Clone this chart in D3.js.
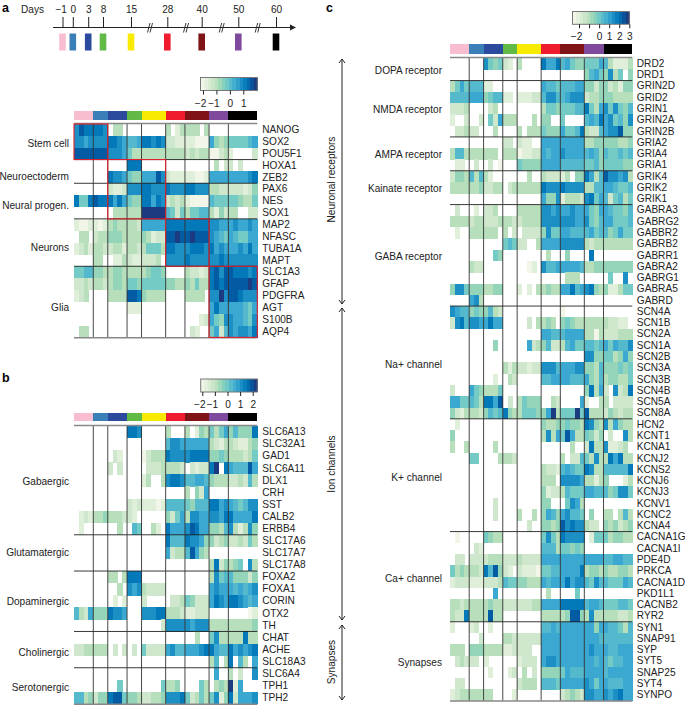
<!DOCTYPE html>
<html lang="en">
<head>
<meta charset="UTF-8">
<title>Heatmaps</title>
<script src="https://d3js.org/d3.v7.min.js"></script>
<style>
  html, body { margin: 0; padding: 0; background: #fff; }
  text { font-family: "Liberation Sans", Arial, sans-serif; fill: #222; }
  .tick text { font-size: 10.1px; }
</style>
</head>
<body>
<svg id="chart" width="685" height="705"></svg>
<script>
// day labels and colours of the differentiation groups
const days = ["\u22121", "0", "3", "8", "15", "28", "40", "50", "60"];
const dayColors = ["#f9bdd0", "#3a7fb8", "#2b4a9e", "#62ba46", "#f8ea00", "#ef1c2e", "#7f1316", "#7f4a9e", "#000000"];
const samplesPerDay = [4, 3, 4, 3, 5, 4, 5, 4, 6];

// expression levels, 0-b low to high, "." = not detected. one string per gene, split by day group
const palette = ["#f1f6e8", "#e0efda", "#cfe7cc", "#b8dfbc", "#94d4b9", "#74cbc5", "#55b9cd", "#3aa8d0", "#1c90c5", "#0479ba", "#035ca3", "#1c3a80"];

const aGenes = ["NANOG", "SOX2", "POU5F1", "HOXA1", "ZEB2", "PAX6", "NES", "SOX1", "MAP2", "NFASC", "TUBA1A", "MAPT", "SLC1A3", "GFAP", "PDGFRA", "AGT", "S100B", "AQP4"];
const aLevels = [
  "8a99 998 .33. ... ..... 3.13 333.3 .... ......",
  "8878 888 9987 667 99898 2211 11000 7434 555567",
  "aaaa aaa 8887 533 33333 3333 23233 0023 1....2",
  ".... ... .... 999 ..... .... ..... .3.2 2.2...",
  ".... ... 9887 544 777a8 2111 11001 7777 777789",
  ".... ... 2112 888 99888 9888 99888 3322 222124",
  "9559 a99 9797 544 99798 2323 10000 6555 554335",
  ".... ... .333 333 bbbbb 6525 35566 3142 33..22",
  "1001 101 3433 332 77777 9999 99999 8877 787787",
  ".33. 233 4443 333 43122 aaba abaaa 8765 765577",
  "1231 332 2331 332 35553 9988 89998 9787 778797",
  ".... 33. .113 211 2223. 8888 98888 8898 888888",
  "5566 443 3443 333 34554 .... 32212 9a8a a99989",
  "2232 332 3443 554 55555 4433 43533 9a9a aaaaba",
  "123. ... 3333 aa9 43333 .... 3333. 88b8 aa9888",
  ".... ... .... 111 ..... .... ..... 7977 777657",
  ".... ... .... ... ..... .... ...12 7548 877658",
  ".33. ... .... ... ..... .... .21.. 5726 878879"
];
const aGroups = ["Stem cell", "Neuroectoderm", "Neural progen.", "Neurons", "Glia"];
const aGroupSizes = [3, 2, 3, 4, 6];

const bGenes = ["SLC6A13", "SLC32A1", "GAD1", "SLC6A11", "DLX1", "CRH", "SST", "CALB2", "ERBB4", "SLC17A6", "SLC17A7", "SLC17A8", "FOXA2", "FOXA1", "CORIN", "OTX2", "TH", "CHAT", "ACHE", "SLC18A3", "SLC6A4", "TPH1", "TPH2"];
const bLevels = [
  ".... ... .... 998 ..... 3... 3.143 5357 464449",
  ".... ... .... ... ..... 6887 77777 3213 321134",
  ".... ... .21. ... 02333 9888 89999 4454 333235",
  ".... ... 2.2. ... .2223 3332 .2122 9b.9 7666a7",
  ".... ... .... ... 13..3 8998 66776 4333 223263",
  ".... ... .... ... ..... .... 3.427 .... ......",
  ".... ... .... 212 11101 6666 54666 9978 765688",
  ".121 334 3332 21. ..... 4257 38877 8879 977779",
  ".1.. ... ..3. .65 ..31. 9777 8a977 4436 831384",
  ".... ... .... ... ..... 9666 98874 4234 223253",
  ".... ... .... ... ..... 7233 6a743 .... ......",
  ".... ... .... ... ..... .... ..... 3924 345.83",
  ".... ... 33.3 999 ..... .... ..... 3856 644424",
  ".... ... ..3. 878 32222 .... ..... 7877 767678",
  ".... ... .1.1 ... 2.... .223 54222 7987 998767",
  "6327 444 9887 ... 88899 3332 11222 .... ....01",
  ".... ... .... ... ....2 8888 87888 3333 333334",
  ".... ... .... ... ..... .... ..3.. 5833 333933",
  "2233 333 .2.2 .2. 52222 7866 77789 9766 978789",
  ".... ... .... ... ..... .... ..... 36.3 9.63.7",
  ".... ... .... ... ..... .... ..... .7.. 3.2..8",
  ".... ... ..5. ... ....5 334. ...53 .343 b17...",
  "6634 244 9aa5 443 22334 8889 52353 5814 927778"
];
const bGroups = ["Gabaergic", "Glutamatergic", "Dopaminergic", "Cholinergic", "Serotonergic"];
const bGroupSizes = [9, 3, 5, 3, 3];

const cGenes = ["DRD2", "DRD1", "GRIN2D", "GRID2", "GRIN1", "GRIN2A", "GRIN2B", "GRIA2", "GRIA4", "GRIA1", "GRIK4", "GRIK2", "GRIK1", "GABRA3", "GABRG2", "GABBR2", "GABRB2", "GABRR1", "GABRA2", "GABRG1", "GABRA5", "GABRD", "SCN4A", "SCN1B", "SCN2A", "SCN1A", "SCN2B", "SCN3A", "SCN3B", "SCN4B", "SCN5A", "SCN8A", "HCN2", "KCNT1", "KCNA1", "KCNJ2", "KCNS2", "KCNJ6", "KCNJ3", "KCNV1", "KCNC2", "KCNA4", "CACNA1G", "CACNA1I", "PDE4D", "PRKCA", "CACNA1D", "PKD1L1", "CACNB2", "RYR2", "SYN1", "SNAP91", "SYP", "SYT5", "SNAP25", "SYT4", "SYNPO"];
const cLevels = [
  ".... ... 8545 21. 3.... 9779 67544 5557 631113",
  ".... ... .... ... ..... .... ..... 4675 4835.4",
  "3575 666 11.. ... ..... 7665 66677 4424 423144",
  "6666 777 4566 11. 11122 6886 67888 2334 443333",
  "2223 ... .23. ... ..... 3554 55566 9537 858546",
  "1..2 ..2 .527 333 ...3. 44.. 5.... 6769 785648",
  ".223 22. ..3. ... 3.333 5444 75569 3226 788a44",
  ".... ... .... 22. 211.. 7777 77777 3344 444334",
  "3663 333 333. 333 01122 7677 87777 6764 655656",
  ".11. .2. .2.0 ... 54444 7777 66666 5564 555544",
  "2443 636 31.. ... ..3.. 3222 13.44 9736 a88783",
  "3333 334 2233 .23 33333 9888 98888 3366 776556",
  ".... ... .... ... ..... 7448 13332 8957 625635",
  ".2.. .1. 223. ... 33333 8878 77877 7547 765546",
  "3333 233 2223 332 23333 8888 88877 8546 775556",
  ".1.. 333 333. 3.2 .2222 4855 77666 6756 645755",
  ".... ... .... 565 22..3 7777 88888 3233 333333",
  ".... ... ..54 ... ..... .3.. .4... .9.. ......",
  ".... 322 .... ... ..01. 8667 77776 3344 444444",
  ".... ... .... ... ..... .... .333. .... .5..8.",
  "4885 444 3344 ... 1.1.3 3433 77967 8943 411355",
  ".... 783 .... ... ..... .... ..... .... ......",
  "8766 454 4632 ... ..... .... 0.... .... ......",
  "2896 887 7977 ... ..2.3 343. 45433 3333 32211.",
  ".... ... .... ... ..... 7766 67777 3303 222333",
  ".... ... ..4. ... ..723 4622 36755 6656 757668",
  ".... ... .... ... ..... .... ..... 8844 553474",
  ".... ... .... 313 22122 8886 77788 4436 444545",
  ".... ... ..1. .32 ..... 6677 77666 7436 344335",
  "2... 754 3335 ... ..... .... ..... 4937 2.8239",
  "7755 653 997a .2. 35444 ..32 ....7 1..3 3.2222",
  "4213 332 4656 943 35554 47b3 555b5 a333 243233",
  ".1.. ... .... ... ..... 4334 45443 9843 837433",
  "4... ... .... ... ..... 3837 5a733 5424 .2..83",
  "3..3 ... ..3. ... ..... .... ..3.. 2933 81123.",
  ".... 55. ...3 332 ..... .... 3.226 5383 397933",
  ".... ... .... ... ..... 3221 67655 9833 666669",
  ".... ... .... ... ..... 333. 88887 3313 4...13",
  ".... ... .... ... ..... 4122 36555 7766 645885",
  ".... ... ..2. ... ..... 44.. .5873 .... ......",
  ".... ... ..2. ... 3..3. 4764 78665 .4.. 33.363",
  ".... ... .... ... ..2.. 4434 a8988 322. 434234",
  ".0.. ... 5433 ... ..... 5853 98888 .155 534433",
  ".... .21 .... ... ..... 6663 55454 .... ......",
  ".22. 222 2333 222 32222 7777 77777 7777 667766",
  "5343 332 96a4 21. 21110 5566 77779 3443 433443",
  "1222 111 2223 655 44333 7677 79788 6586 655576",
  ".... ... ..7. ... ..... .3.. ...5. .... ......",
  "3323 333 3433 222 22233 7777 99999 6776 555665",
  "3229 333 3a33 ... ..... 3333 34aa4 3833 333223",
  "1... 12. .1.. ... ..... 6676 77777 7747 766536",
  ".... ..2 .... 332 22222 7777 77777 7776 666666",
  "333. 444 3333 112 222.. 7777 77777 7877 766777",
  ".232 22. 1... ... 1222. 7887 77777 7767 656677",
  ".... ... .1.. .12 .3.2. 4444 57666 7777 677777",
  ".22. ... .... ... 2333. 6665 77777 8757 766677",
  "1233 333 33.. ..1 ..... .... 23432 8877 878977"
];
const cGroups = ["DOPA receptor", "NMDA receptor", "AMPA receptor", "Kainate receptor", "GABA receptor", "Na+ channel", "K+ channel", "Ca+ channel", "Synapses"];
const cGroupSizes = [2, 5, 3, 3, 9, 10, 10, 8, 7];

const svg = d3.select("#chart");
const color = d3.scaleOrdinal().domain(d3.range(12)).range(palette);
const ramp = d3.piecewise(d3.interpolateRgb, palette.concat());

function panel(o) {
  const g = svg.append("g");
  const cols = d3.range(d3.sum(samplesPerDay));
  const x = d3.scaleBand().domain(cols).range([o.x0, o.x1]);
  const y = d3.scaleBand().domain(o.genes).range([o.y0, o.y1]);
  const xEdge = i => o.x0 + i * x.step();
  const yEdge = i => o.y0 + i * y.step();
  const dayEdges = d3.cumsum(samplesPerDay);

  // day colour strip
  g.append("g").selectAll("rect").data(dayColors).join("rect")
    .attr("x", (d, i) => xEdge(i ? dayEdges[i - 1] : 0))
    .attr("y", o.stripY)
    .attr("width", (d, i) => samplesPerDay[i] * x.step())
    .attr("height", o.stripH)
    .attr("shape-rendering", "crispEdges")
    .attr("fill", d => d);

  // cells
  o.genes.forEach((gene, r) => {
    const row = o.levels[r].replace(/ /g, "").split("");
    g.append("g").selectAll("rect")
      .data(row.map((c, i) => ({ i: i, v: c === "." ? null : parseInt(c, 12) })).filter(d => d.v !== null))
      .join("rect")
      .attr("x", d => x(d.i))
      .attr("y", y(gene))
      .attr("width", x.bandwidth() + 0.3)
      .attr("height", y.bandwidth() + 0.3)
      .attr("shape-rendering", "crispEdges")
      .attr("fill", d => color(d.v));
  });

  // separators between gene groups and day groups
  const rowEdges = d3.cumsum(o.groupSizes);
  g.append("g").selectAll("line").data(rowEdges.slice(0, -1)).join("line")
    .attr("x1", o.x0).attr("x2", o.x1)
    .attr("y1", d => yEdge(d)).attr("y2", d => yEdge(d))
    .attr("stroke", "#222").attr("stroke-width", 0.9);
  g.append("g").selectAll("line").data(dayEdges.slice(0, -1)).join("line")
    .attr("x1", d => xEdge(d)).attr("x2", d => xEdge(d))
    .attr("y1", o.y0).attr("y2", o.y1)
    .attr("stroke", "#333").attr("stroke-width", 0.9);
  g.selectAll(".edge").data([o.y0 - 0.5, o.y1 + 0.3]).join("line")
    .attr("class", "edge")
    .attr("x1", o.x0).attr("x2", o.x1)
    .attr("y1", d => d).attr("y2", d => d)
    .attr("stroke", "#888").attr("stroke-width", 1.4);

  // gene labels
  const yAxis = g.append("g")
    .attr("transform", `translate(${o.x1},0)`)
    .call(d3.axisRight(y).tickSize(0).tickPadding(o.pad));
  yAxis.select(".domain").remove();
  yAxis.selectAll("text").style("fill", "#222");

  // group labels
  g.append("g").selectAll("text").data(o.groups).join("text")
    .attr("x", o.groupX)
    .attr("y", (d, i) => o.groupY[i])
    .attr("dy", "0.35em")
    .attr("text-anchor", "end")
    .attr("font-size", 10.1)
    .text(d => d);
  return { xEdge, yEdge };
}

function legend(o) {
  const g = svg.append("g");
  const steps = d3.range(16);
  const bar = d3.scaleBand().domain(steps).range([o.x0, o.x1]);
  g.selectAll("rect.step").data(steps).join("rect")
    .attr("class", "step")
    .attr("x", d => bar(d))
    .attr("y", o.y0)
    .attr("width", bar.bandwidth() + 0.3)
    .attr("height", o.y1 - o.y0)
    .attr("shape-rendering", "crispEdges")
    .attr("fill", d => ramp(d / 15));
  g.append("rect")
    .attr("x", o.x0).attr("y", o.y0)
    .attr("width", o.x1 - o.x0).attr("height", o.y1 - o.y0)
    .attr("fill", "none").attr("stroke", "#777").attr("stroke-width", 1);
  const s = d3.scaleLinear().domain(o.domain).range(o.range);
  const ax = g.append("g")
    .attr("transform", `translate(0,${o.y1})`)
    .call(d3.axisBottom(s).tickValues(o.ticks).tickSize(4).tickPadding(o.pad)
      .tickFormat(d => o.hide && o.hide.includes(d) ? "" : d3.format("d")(d)));
  ax.select(".domain").remove();
  ax.selectAll("line").attr("stroke", "#222");
  // the minus sign pushes negative labels left of their tick
  ax.selectAll("text").attr("dx", d => d < 0 ? -3 : 0);
}

const pa = panel({
  genes: aGenes, levels: aLevels, groups: aGroups, groupSizes: aGroupSizes,
  x0: 74, x1: 257.3, y0: 124, y1: 337.4, stripY: 111, stripH: 9, pad: 5, groupX: 69,
  groupY: [143, 176, 205, 247, 307]
});
const pb = panel({
  genes: bGenes, levels: bLevels, groups: bGroups, groupSizes: bGroupSizes,
  x0: 74, x1: 257.3, y0: 426, y1: 704, stripY: 412.7, stripH: 8.7, pad: 5, groupX: 69,
  groupY: [481, 552, 601, 652, 687]
});
const pc = panel({
  genes: cGenes, levels: cLevels, groups: cGroups, groupSizes: cGroupSizes,
  x0: 450, x1: 632.3, y0: 58, y1: 700.7, stripY: 44.3, stripH: 9.4, pad: 4.5, groupX: 442,
  groupY: [70, 109, 154.5, 188, 256, 364, 477, 578.7, 662]
});

// red boxes of panel a
const redBoxes = [[0, 7, 0, 3], [7, 19, 3, 8], [19, 28, 8, 12], [28, 38, 12, 18]];
svg.append("g").selectAll("rect").data(redBoxes).join("rect")
  .attr("x", d => pa.xEdge(d[0]))
  .attr("y", d => pa.yEdge(d[2]))
  .attr("width", d => pa.xEdge(d[1]) - pa.xEdge(d[0]))
  .attr("height", d => pa.yEdge(d[3]) - pa.yEdge(d[2]))
  .attr("fill", "none").attr("stroke", "#e0202c").attr("stroke-width", 1.1);

legend({ x0: 200.5, x1: 257.3, y0: 77.5, y1: 90.5, domain: [-2, 1], range: [203, 243.3], ticks: [-2, -1, 0, 1], pad: 5.5 });
legend({ x0: 200.7, x1: 257.3, y0: 379, y1: 392, domain: [-2, 2], range: [202.3, 252.7], ticks: [-2, -1, 0, 1, 2], pad: 5 });
legend({ x0: 572.5, x1: 629.3, y0: 11.5, y1: 24.3, domain: [-2, 3], range: [579, 629.3], ticks: [-2, -1, 0, 1, 2, 3], hide: [-1], pad: 5 });

// timeline on top of panel a
const dayX = d3.scaleOrdinal().domain(days).range([62.5, 72.8, 88.2, 103, 131, 167.3, 201.7, 238.3, 276]);
const tl = svg.append("g");
tl.append("line").attr("x1", 53).attr("x2", 293).attr("y1", 27.5).attr("y2", 27.5).attr("stroke", "#222").attr("stroke-width", 1);
tl.append("path").attr("d", "M290,24.5L296,27.5L290,30.5Z").attr("fill", "#222");
const tlAxis = tl.append("g").attr("transform", "translate(0,28)")
  .call(d3.axisTop(dayX).tickSize(11).tickPadding(4.5));
tlAxis.select(".domain").remove();
tlAxis.selectAll("text").style("fill", "#222").attr("dx", d => d === days[0] ? -1.8 : 0);
tlAxis.selectAll("line").attr("stroke", "#222");
tl.selectAll("rect").data(days).join("rect")
  .attr("x", d => dayX(d) - 3.3).attr("y", 33.5).attr("width", 6.6).attr("height", 17)
  .attr("fill", (d, i) => dayColors[i]);
tl.selectAll("path.brk").data([150, 186, 221.7, 257.7]).join("path")
  .attr("class", "brk")
  .attr("d", d => `M${d - 2.5},32.5L${d},23 M${d},32.5L${d + 2.5},23`)
  .attr("fill", "none").attr("stroke", "#222").attr("stroke-width", 0.9);
tl.append("text").attr("x", 21).attr("y", 12.5).attr("font-size", 10.1).text("Days");

// panel letters
svg.selectAll("text.letter").data([["a", 2, 11.5], ["b", 2, 382], ["c", 326, 11.5]]).join("text")
  .attr("class", "letter").attr("x", d => d[1]).attr("y", d => d[2])
  .attr("font-size", 12.5).attr("font-weight", "bold").style("fill", "#000").text(d => d[0]);

// section arrows of panel c
const sections = [["Neuronal receptors", 59, 304], ["Ion channels", 308, 620], ["Synapses", 625, 700]];
const sec = svg.append("g").selectAll("g").data(sections).join("g");
sec.append("path")
  .attr("d", d => `M342,${d[1]}L342,${d[2]} M339,${d[1] + 4}L342,${d[1]}L345,${d[1] + 4} M339,${d[2] - 4}L342,${d[2]}L345,${d[2] - 4}`)
  .attr("fill", "none").attr("stroke", "#222").attr("stroke-width", 1);
sec.append("text")
  .attr("transform", d => `translate(331,${d[0] === "Synapses" ? 662 : (d[1] + d[2]) / 2 - (d[0] === "Ion channels" ? 0 : 2)}) rotate(-90)`)
  .attr("text-anchor", "middle").attr("dy", "0.35em").attr("font-size", 10.1).text(d => d[0]);
</script>
</body>
</html>
